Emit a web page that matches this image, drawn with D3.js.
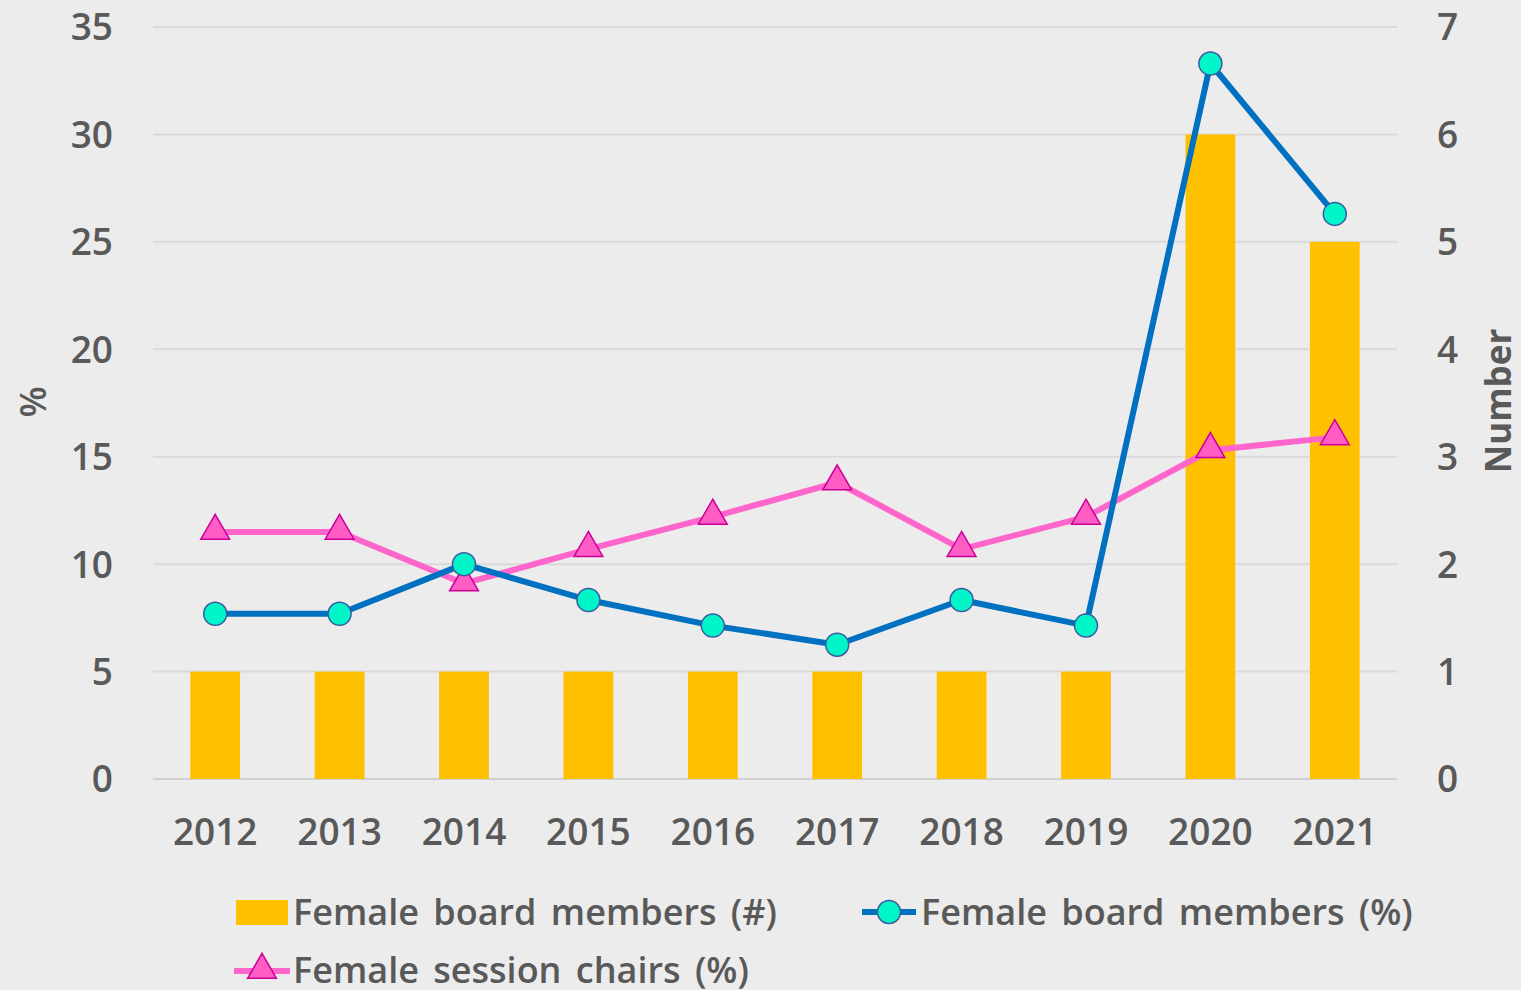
<!DOCTYPE html>
<html>
<head>
<meta charset="utf-8">
<script src="https://cdn.jsdelivr.net/npm/d3@7"></script>
<style>
  html, body { margin: 0; padding: 0; background: #ececec; }
  svg text { font-family: "Open Sans", "Noto Sans", sans-serif; fill: #595959; font-weight: 600; }
</style>
</head>
<body>
<div id="chart"></div>
<script>
// Data
const years = ['2012', '2013', '2014', '2015', '2016', '2017', '2018', '2019', '2020', '2021'];
const boardCount = [1, 1, 1, 1, 1, 1, 1, 1, 6, 5];
const boardPct = [7.69, 7.69, 10.0, 8.33, 7.14, 6.25, 8.33, 7.14, 33.3, 26.3];
const chairPct = [11.5, 11.5, 9.1, 10.7, 12.2, 13.8, 10.7, 12.2, 15.3, 15.9];
const leftTicks = [0, 5, 10, 15, 20, 25, 30, 35];
const rightTicks = [0, 1, 2, 3, 4, 5, 6, 7];

const W = 1521, H = 990;
const margin = { top: 27, right: 124, bottom: 211, left: 153 };
const width = W - margin.left - margin.right;
const height = H - margin.top - margin.bottom;

const svg = d3.select('#chart').append('svg')
  .attr('width', W).attr('height', H);

svg.append('rect').attr('width', W).attr('height', H).attr('fill', '#ececec');

const g = svg.append('g').attr('transform', `translate(${margin.left},${margin.top})`);

const x = d3.scaleBand().domain(years).range([0, width]).padding(0);
const yL = d3.scaleLinear().domain([0, 35]).range([height, 0]);
const yR = d3.scaleLinear().domain([0, 7]).range([height, 0]);

// gridlines
g.append('g')
  .selectAll('line')
  .data(leftTicks)
  .enter().append('line')
  .attr('x1', 0).attr('x2', width)
  .attr('y1', d => yL(d)).attr('y2', d => yL(d))
  .attr('stroke', d => d === 0 ? '#d0d0d0' : '#dadada')
  .attr('stroke-width', 2);

// left axis
const leftAxis = g.append('g')
  .call(d3.axisLeft(yL).tickValues(leftTicks).tickSize(0).tickPadding(40));
leftAxis.select('.domain').remove();
leftAxis.selectAll('text').style('font-size', '37px').attr('dy', '0.35em');

// right axis
const rightAxis = g.append('g')
  .attr('transform', `translate(${width},0)`)
  .call(d3.axisRight(yR).tickValues(rightTicks).tickFormat(d3.format('d')).tickSize(0).tickPadding(40));
rightAxis.select('.domain').remove();
rightAxis.selectAll('text').style('font-size', '37px').attr('dy', '0.35em');

// x axis
const xAxis = g.append('g')
  .attr('transform', `translate(0,${height})`)
  .call(d3.axisBottom(x).tickSize(0).tickPadding(40));
xAxis.select('.domain').remove();
xAxis.selectAll('text').style('font-size', '37px');

// bars
const barW = x.bandwidth() * 0.4;
g.append('g')
  .selectAll('rect')
  .data(years)
  .enter().append('rect')
  .attr('x', (d) => x(d) + (x.bandwidth() - barW) / 2)
  .attr('y', (d, i) => yR(boardCount[i]))
  .attr('width', barW)
  .attr('height', (d, i) => height - yR(boardCount[i]))
  .attr('fill', '#ffc000');

const cx = d => x(d) + x.bandwidth() / 2;

// session chairs line
const chairLine = d3.line().x((d, i) => cx(years[i])).y(d => yL(d));
g.append('path')
  .datum(chairPct)
  .attr('d', chairLine)
  .attr('fill', 'none')
  .attr('stroke', '#ff66cc')
  .attr('stroke-width', 6)
  .attr('stroke-linejoin', 'round');

// board % line
const boardLine = d3.line().x((d, i) => cx(years[i])).y(d => yL(d));
g.append('path')
  .datum(boardPct)
  .attr('d', boardLine)
  .attr('fill', 'none')
  .attr('stroke', '#0070c0')
  .attr('stroke-width', 6)
  .attr('stroke-linejoin', 'round');

const tri = d3.symbol().type(d3.symbolTriangle).size(360);

g.append('g')
  .selectAll('path')
  .data(chairPct)
  .enter().append('path')
  .attr('d', tri)
  .attr('transform', (d, i) => `translate(${cx(years[i])},${yL(d) - 1})`)
  .attr('fill', '#ff5cc4')
  .attr('stroke', '#cc0099')
  .attr('stroke-width', 1.5);

g.append('g')
  .selectAll('circle')
  .data(boardPct)
  .enter().append('circle')
  .attr('cx', (d, i) => cx(years[i]))
  .attr('cy', d => yL(d))
  .attr('r', 11.5)
  .attr('fill', '#00f5c8')
  .attr('stroke', '#3c5aa0')
  .attr('stroke-width', 1.5);

// axis titles
svg.append('text')
  .attr('transform', 'translate(46,402) rotate(-90)')
  .attr('text-anchor', 'middle')
  .style('font-size', '36px')
  .text('%');

svg.append('text')
  .attr('transform', 'translate(1511,401) rotate(-90)')
  .attr('text-anchor', 'middle')
  .style('font-size', '35px')
  .style('font-weight', 700)
  .text('Number');

// legend
const leg = svg.append('g').style('font-size', '36px').style('word-spacing', '5px');

leg.append('rect').attr('x', 236).attr('y', 900).attr('width', 52).attr('height', 25).attr('fill', '#ffc000');
leg.append('text').attr('x', 293).attr('y', 925).text('Female board members (#)');

leg.append('line').attr('x1', 862).attr('x2', 916).attr('y1', 912).attr('y2', 912)
  .attr('stroke', '#0070c0').attr('stroke-width', 6);
leg.append('circle').attr('cx', 889).attr('cy', 912).attr('r', 11.5)
  .attr('fill', '#00f5c8').attr('stroke', '#3c5aa0').attr('stroke-width', 1.5);
leg.append('text').attr('x', 921).attr('y', 925).text('Female board members (%)');

leg.append('line').attr('x1', 234).attr('x2', 290).attr('y1', 971).attr('y2', 971)
  .attr('stroke', '#ff66cc').attr('stroke-width', 6);
leg.append('path').attr('d', tri).attr('transform', 'translate(262,970)')
  .attr('fill', '#ff5cc4').attr('stroke', '#cc0099').attr('stroke-width', 1.5);
leg.append('text').attr('x', 293).attr('y', 983).text('Female session chairs (%)');
</script>
</body>
</html>
